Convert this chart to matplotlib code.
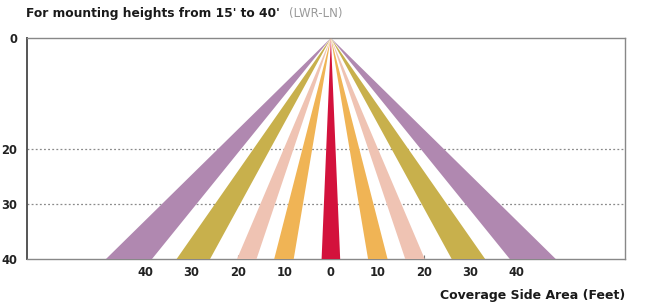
import matplotlib.pyplot as plt
from matplotlib.patches import Polygon

plt.rcParams['font.family'] = ['DejaVu Sans']

# coverage bands: inner / outer edge (feet) at 40 ft mounting height
band_names = ["center", "10", "20", "30", "40"]
band_inner = [0.0, 8.0, 16.0, 26.0, 38.5]
band_outer = [2.0, 12.2, 20.2, 33.2, 48.4]
band_colors = ["#d3123c", "#f0b455", "#efc3b3", "#c8b04c", "#b088b0"]

depth = 40
x_ticks = [-40, -30, -20, -10, 0, 10, 20, 30, 40]
y_ticks = [0, 20, 30, 40]

fig = plt.figure(figsize=(6.46, 3.03), dpi=100)
ax = fig.add_axes([27 / 646, 44 / 303, 598 / 646, 221 / 303])

for name, inner, outer, col in zip(band_names, band_inner, band_outer, band_colors):
    if name == "center":
        pts = [(0, 0), (-outer, depth), (outer, depth)]
        ax.add_patch(Polygon(pts, closed=True, facecolor=col, edgecolor="none", zorder=3))
    else:
        for s in (-1, 1):
            pts = [(0, 0), (s * inner, depth), (s * outer, depth)]
            ax.add_patch(Polygon(pts, closed=True, facecolor=col, edgecolor="none", zorder=3))

for y in (20, 30):
    ax.axhline(y, color="#8a8a8a", lw=0.9, ls=(0, (1.5, 1.8)), zorder=1)

ax.set_xlim(-65.4, 63.3)
ax.set_ylim(depth, 0)
ax.set_xticks(x_ticks)
ax.set_xticklabels([str(abs(v)) for v in x_ticks])
ax.set_yticks(y_ticks)
ax.tick_params(axis="both", labelsize=8.3, colors="#222222", length=3, direction="in", width=0.8)
ax.tick_params(axis="x", pad=5, color="#777777")
ax.tick_params(axis="y", pad=7, length=0)
for lbl in ax.get_xticklabels() + ax.get_yticklabels():
    lbl.set_fontweight("bold")

ax.spines["left"].set_color("#555555")
ax.spines["left"].set_linewidth(1.4)
for side in ("top", "bottom", "right"):
    ax.spines[side].set_color("#888888")
    ax.spines[side].set_linewidth(1.0)

fig.text(26 / 646, 1 - 17 / 303, "For mounting heights from 15' to 40'", fontsize=8.8,
         fontweight="bold", color="#1a1a1a", ha="left", va="baseline")
fig.text(289 / 646, 1 - 17 / 303, "(LWR-LN)", fontsize=8.5, color="#9a9a9a",
         ha="left", va="baseline")
fig.text(625 / 646, 1 - 299 / 303, "Coverage Side Area (Feet)", fontsize=9,
         fontweight="bold", color="#1a1a1a", ha="right", va="baseline")

fig.savefig("out.png", dpi=100)
